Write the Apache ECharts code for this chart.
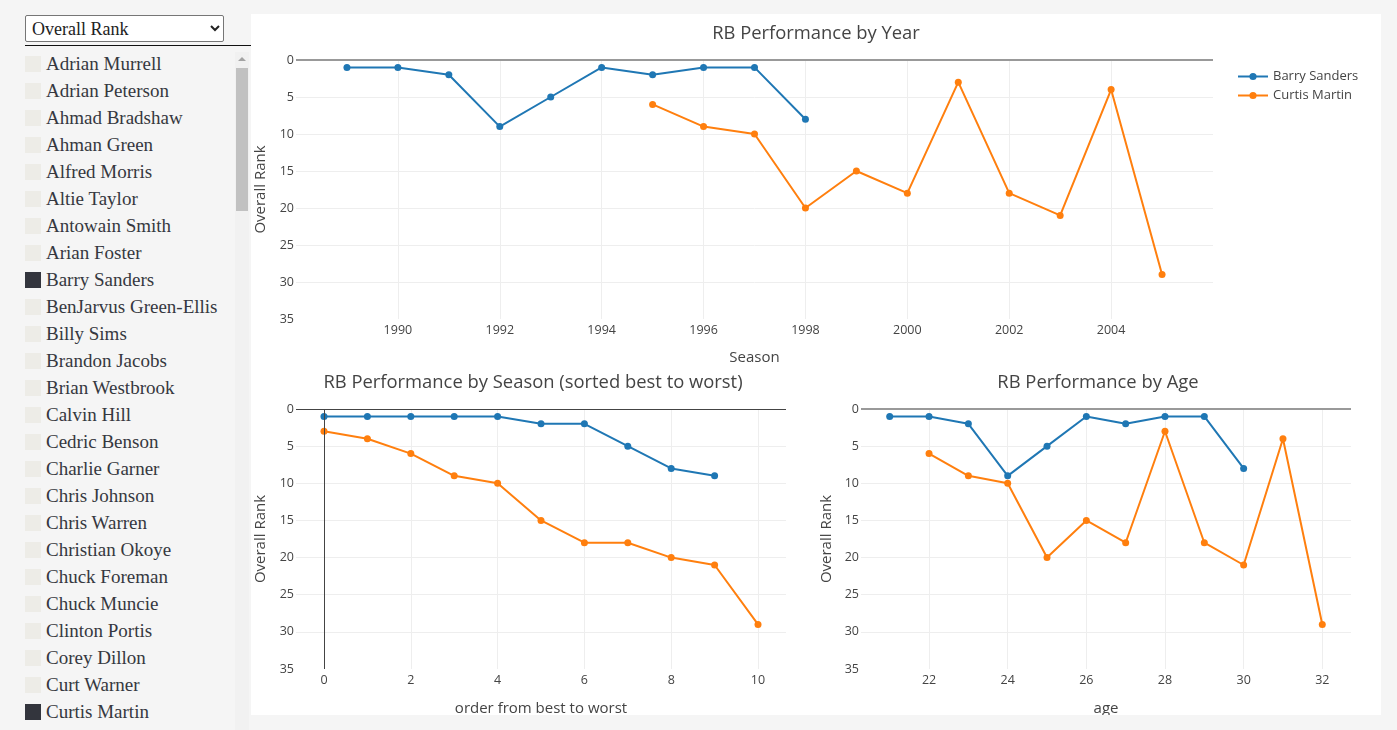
<!DOCTYPE html>
<html>
<head>
<meta charset="utf-8">
<script src="https://cdn.jsdelivr.net/npm/echarts@6/dist/echarts.min.js"></script>
<style>
  body { margin: 0; background: #f5f5f5; width: 1397px; height: 730px; overflow: hidden; position: relative; }
  #pick { position: absolute; left: 25px; top: 15px; width: 199px; height: 27px;
          font: 18px "Liberation Serif", serif; color: #222; background: #fff;
          border: 1px solid #767676; border-radius: 2px; padding: 0 2px; }
  #rule { position: absolute; left: 25px; top: 45px; width: 226px; height: 1px; background: #111; }
  #list { position: absolute; left: 25px; top: 50px; width: 210px; height: 680px; overflow: hidden; }
  .item { height: 27px; display: flex; align-items: center; font: 19px "Liberation Serif", serif; color: #353840; white-space: nowrap; }
  .box { width: 16px; height: 16px; background: #edece7; margin-right: 5px; flex: none; }
  .box.on { background: #33353d; }
  #track { position: absolute; left: 235px; top: 52px; width: 14px; height: 678px; background: #f1f1f1; }
  #thumb { position: absolute; left: 236px; top: 68px; width: 12px; height: 143px; background: #c1c1c1; }
  #arrow { position: absolute; left: 238px; top: 57px; width: 0; height: 0;
           border-left: 4px solid transparent; border-right: 4px solid transparent; border-bottom: 4px solid #a3a3a3; }
  #panel { position: absolute; left: 251px; top: 14px; width: 1130px; height: 701px; background: #fff; }
</style>
</head>
<body>
<select id="pick"><option>Overall Rank</option></select>
<div id="rule"></div>
<div id="list"></div>
<div id="track"></div>
<div id="arrow"></div>
<div id="thumb"></div>
<div id="panel"></div>
<script>
// players in the sidebar, the selected ones are drawn
const players = ['Adrian Murrell', 'Adrian Peterson', 'Ahmad Bradshaw', 'Ahman Green', 'Alfred Morris',
  'Altie Taylor', 'Antowain Smith', 'Arian Foster', 'Barry Sanders', 'BenJarvus Green-Ellis', 'Billy Sims',
  'Brandon Jacobs', 'Brian Westbrook', 'Calvin Hill', 'Cedric Benson', 'Charlie Garner', 'Chris Johnson',
  'Chris Warren', 'Christian Okoye', 'Chuck Foreman', 'Chuck Muncie', 'Clinton Portis', 'Corey Dillon',
  'Curt Warner', 'Curtis Martin', ''];
const selected = ['Barry Sanders', 'Curtis Martin'];

// rank by season
const barrySeasons = [1989, 1990, 1991, 1992, 1993, 1994, 1995, 1996, 1997, 1998];
const barryRank = [1, 1, 2, 9, 5, 1, 2, 1, 1, 8];
const curtisSeasons = [1995, 1996, 1997, 1998, 1999, 2000, 2001, 2002, 2003, 2004, 2005];
const curtisRank = [6, 9, 10, 20, 15, 18, 3, 18, 21, 4, 29];

// rank sorted best to worst
const barryOrder = [0, 1, 2, 3, 4, 5, 6, 7, 8, 9];
const barrySorted = [1, 1, 1, 1, 1, 2, 2, 5, 8, 9];
const curtisOrder = [0, 1, 2, 3, 4, 5, 6, 7, 8, 9, 10];
const curtisSorted = [3, 4, 6, 9, 10, 15, 18, 18, 20, 21, 29];

// rank by age
const barryAges = [21, 22, 23, 24, 25, 26, 27, 28, 29, 30];
const curtisAges = [22, 23, 24, 25, 26, 27, 28, 29, 30, 31, 32];

// tick labels
const seasonTicks = [1990, 1992, 1994, 1996, 1998, 2000, 2002, 2004];
const orderTicks = [0, 2, 4, 6, 8, 10];
const ageTicks = [22, 24, 26, 28, 30, 32];

const blue = '#1f77b4';
const orange = '#ff7f0e';
const font = '"Open Sans", verdana, arial, sans-serif';

let list = document.getElementById('list');
players.forEach(function (name) {
    let row = document.createElement('div');
    row.className = 'item';
    let box = document.createElement('span');
    box.className = selected.indexOf(name) >= 0 ? 'box on' : 'box';
    row.appendChild(box);
    row.appendChild(document.createTextNode(name));
    list.appendChild(row);
});

function pairs(xs, ys) {
    return xs.map(function (x, i) { return [x, ys[i]]; });
}

function xAxis(idx, min, max, ticks, name, gap) {
    return {
        type: 'value', gridIndex: idx, min: min, max: max,
        name: name, nameLocation: 'middle', nameGap: gap,
        nameTextStyle: { fontFamily: font, fontSize: 15, color: '#444' },
        axisLine: { show: false },
        axisTick: { show: false, customValues: ticks },
        axisLabel: { customValues: ticks, fontFamily: font, fontSize: 12.5, color: '#444', margin: 5,
            formatter: function (v) { return String(v); } },
        splitLine: { show: true, lineStyle: { color: '#eee', width: 1 } }
    };
}

function yAxis(idx, gap) {
    return {
        type: 'value', gridIndex: idx, inverse: true, min: 0, max: 35, interval: 5,
        name: 'Overall Rank', nameLocation: 'middle', nameGap: gap,
        nameTextStyle: { fontFamily: font, fontSize: 15, color: '#444' },
        axisLine: { show: false },
        axisTick: { show: false },
        axisLabel: { fontFamily: font, fontSize: 12.5, color: '#444', margin: 2 },
        splitLine: { show: true, lineStyle: {
            color: ['rgba(0,0,0,0)', '#eee', '#eee', '#eee', '#eee', '#eee', '#eee', 'rgba(0,0,0,0)'], width: 1 } }
    };
}

function line(name, color, idx, data, mark) {
    let s = {
        type: 'line', name: name, xAxisIndex: idx, yAxisIndex: idx, data: data,
        symbol: 'circle', symbolSize: 7, color: color,
        lineStyle: { width: 2, color: color }, itemStyle: { color: color }
    };
    if (mark) {
        s.markLine = {
            silent: true, symbol: 'none', animation: false,
            label: { show: false },
            lineStyle: { color: mark.color, width: mark.width, type: 'solid' },
            data: mark.data
        };
    }
    return s;
}

function title(text, x, y) {
    return {
        text: text, left: x, top: y, textAlign: 'center',
        textStyle: { fontFamily: font, fontSize: 18.4, fontWeight: 'normal', color: '#444' }
    };
}

let myChart = echarts.init(document.getElementById('panel'));
let option = {
    animation: false,
    title: [
        title('RB Performance by Year', 560, 6),
        title('RB Performance by Season (sorted best to worst)', 277, 355),
        title('RB Performance by Age', 842, 355)
    ],
    legend: {
        orient: 'vertical', left: 981, top: 51, itemGap: 6, itemWidth: 30, itemHeight: 9,
        data: selected,
        textStyle: { fontFamily: font, fontSize: 13, color: '#444' }
    },
    grid: [
        { left: 45, top: 46, width: 917, height: 259, containLabel: false, outerBoundsMode: 'none' },
        { left: 45, top: 395, width: 490, height: 260, containLabel: false, outerBoundsMode: 'none' },
        { left: 610, top: 395, width: 490, height: 260, containLabel: false, outerBoundsMode: 'none' }
    ],
    xAxis: [
        xAxis(0, 1988, 2006, seasonTicks, 'Season', 31),
        xAxis(1, -0.645, 10.645, orderTicks, 'order from best to worst', 32),
        xAxis(2, 20.27, 32.73, ageTicks, 'age', 32)
    ],
    yAxis: [yAxis(0, 28), yAxis(1, 28), yAxis(2, 27)],
    series: [
        line('Barry Sanders', blue, 0, pairs(barrySeasons, barryRank),
            { color: '#999', width: 2, data: [{ yAxis: 0 }] }),
        line('Curtis Martin', orange, 0, pairs(curtisSeasons, curtisRank)),
        line('Barry Sanders', blue, 1, pairs(barryOrder, barrySorted),
            { color: '#444', width: 1, data: [{ yAxis: 0 }, { xAxis: 0 }] }),
        line('Curtis Martin', orange, 1, pairs(curtisOrder, curtisSorted)),
        line('Barry Sanders', blue, 2, pairs(barryAges, barryRank),
            { color: '#999', width: 2, data: [{ yAxis: 0 }] }),
        line('Curtis Martin', orange, 2, pairs(curtisAges, curtisRank))
    ]
};
option && myChart.setOption(option);
</script>
</body>
</html>
